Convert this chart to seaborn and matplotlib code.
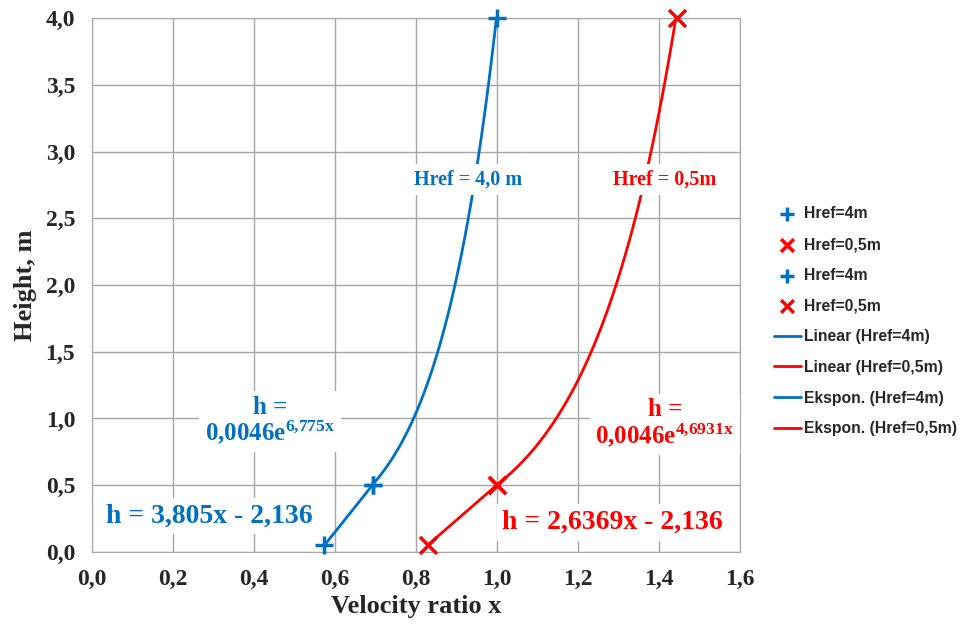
import numpy as np
import pandas as pd
import seaborn as sns
import matplotlib.pyplot as plt

# measured points
x_4m = [0.574, 0.694, 1.0]
h_4m = [0.05, 0.5, 4.0]
x_05m = [0.829, 1.0, 1.445]
h_05m = [0.05, 0.5, 4.0]

# trendline coefficients shown in the chart
lin_4m = [3.805, -2.136]
lin_05m = [2.6369, -2.136]
exp_4m = [0.0046, 6.775]
exp_05m = [0.0046, 4.6931]

blue = '#0070C0'
red = '#FF0000'

sns.set_style('whitegrid', {'grid.color': '#A6A6A6', 'axes.edgecolor': '#A6A6A6'})
plt.rcParams['font.family'] = ['Liberation Serif', 'DejaVu Serif']
plt.rcParams['mathtext.fontset'] = 'custom'
plt.rcParams['mathtext.rm'] = 'Liberation Serif'
plt.rcParams['mathtext.bf'] = 'Liberation Serif:bold'

fig, ax = plt.subplots(figsize=(9.67, 6.3), dpi=100)
fig.subplots_adjust(left=0.095, right=0.765, top=0.971, bottom=0.124)

# trend lines
xl4 = np.linspace(x_4m[0], x_4m[1], 20)
xl05 = np.linspace(x_05m[0], x_05m[1], 20)
xe4 = np.linspace(x_4m[1], x_4m[2], 100)
xe05 = np.linspace(x_05m[1], x_05m[2], 100)

sns.lineplot(x=xl4, y=lin_4m[0] * xl4 + lin_4m[1], color=blue, lw=2, ax=ax, label='Linear (Href=4m)')
sns.lineplot(x=xl05, y=lin_05m[0] * xl05 + lin_05m[1], color=red, lw=2, ax=ax, label='Linear (Href=0,5m)')
sns.lineplot(x=xe4, y=exp_4m[0] * np.exp(exp_4m[1] * xe4), color=blue, lw=2, ax=ax, label='Ekspon. (Href=4m)')
sns.lineplot(x=xe05, y=exp_05m[0] * np.exp(exp_05m[1] * xe05), color=red, lw=2, ax=ax, label='Ekspon. (Href=0,5m)')

# points (two series each, as in the source)
kw = dict(linewidth=2.5, ax=ax, zorder=5, clip_on=False)
sns.scatterplot(x=x_4m[:2], y=h_4m[:2], marker='+', s=180, color=blue, label='Href=4m', **kw)
sns.scatterplot(x=x_05m[:2], y=h_05m[:2], marker='x', s=150, color=red, label='Href=0,5m', **kw)
sns.scatterplot(x=x_4m[1:], y=h_4m[1:], marker='+', s=180, color=blue, label='Href=4m', **kw)
sns.scatterplot(x=x_05m[1:], y=h_05m[1:], marker='x', s=150, color=red, label='Href=0,5m', **kw)

ax.set_xlim(0, 1.6)
ax.set_ylim(0, 4.0)
xt = np.arange(0, 1.61, 0.2)
yt = np.arange(0, 4.01, 0.5)
ax.set_xticks(xt)
ax.set_yticks(yt)
ax.set_xticklabels([f'{v:.1f}'.replace('.', ',') for v in xt], fontsize=17, fontweight='bold')
ax.set_yticklabels([f'{v:.1f}'.replace('.', ',') for v in yt], fontsize=17, fontweight='bold')
ax.tick_params(axis='both', length=6, color='#A6A6A6', pad=6)
ax.grid(True, color='#A6A6A6', lw=1)
for s in ax.spines.values():
    s.set_color('#A6A6A6')
ax.set_xlabel('Velocity ratio x', fontsize=19, fontweight='bold', labelpad=4)
ax.set_ylabel('Height, m', fontsize=19, fontweight='bold', labelpad=6)

box = dict(facecolor='white', edgecolor='none', pad=4)
ax.text(0.928, 2.79, 'Href = 4,0 m', color=blue, fontsize=14.5, fontweight='bold', ha='center', va='center', bbox=box)
ax.text(1.415, 2.79, 'Href = 0,5m', color=red, fontsize=14.5, fontweight='bold', ha='center', va='center', bbox=box)
ax.text(0.44, 0.98, 'h =\n' + r'$\mathbf{0{,}0046e^{6{,}775x}}$', color=blue, fontsize=18,
        ha='center', va='center', fontweight='bold', linespacing=1.0, bbox=box)
ax.text(1.415, 0.96, 'h =\n' + r'$\mathbf{0{,}0046e^{4{,}6931x}}$', color=red, fontsize=18,
        ha='center', va='center', fontweight='bold', linespacing=1.0, bbox=box)
ax.text(0.29, 0.27, 'h = 3,805x - 2,136', color=blue, fontsize=20, fontweight='bold', ha='center', va='center', bbox=box)
ax.text(1.286, 0.22, 'h = 2,6369x - 2,136', color=red, fontsize=20, fontweight='bold', ha='center', va='center', bbox=box)

handles, labels = ax.get_legend_handles_labels()
order = [4, 5, 6, 7, 0, 1, 2, 3]
ax.get_legend().remove()
fig.legend([handles[i] for i in order], [labels[i] for i in order], loc='center left',
           bbox_to_anchor=(0.794, 0.49), borderaxespad=0, frameon=False, labelspacing=1.0,
           handlelength=1.7, handletextpad=0.2, markerscale=0.75,
           prop={'family': 'Liberation Sans', 'weight': 'bold', 'size': 11.3})

fig.savefig('out.png', dpi=100)
